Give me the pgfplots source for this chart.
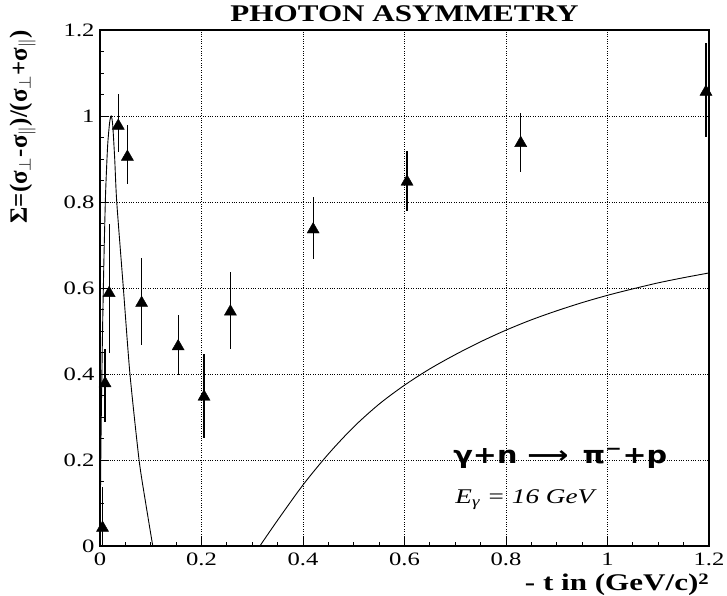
\documentclass[border=0pt]{standalone}
\usepackage{pgfplots}
\pgfplotsset{compat=1.18}
\usepackage{fontspec}
\setmainfont{Liberation Serif}[FakeStretch=1.3]
\newfontfamily\plainserif{Liberation Serif}
\newfontfamily\rxfont{DejaVu Sans}[FakeStretch=1.2]
\begin{document}
\begin{tikzpicture}
\useasboundingbox (-100bp,-50bp) rectangle (627bp,546bp);
\begin{axis}[
  scale only axis, width=609bp, height=516bp,
  xmin=0, xmax=1.2, ymin=0, ymax=1.2,
  xtick={0,0.2,0.4,0.6,0.8,1,1.2},
  ytick={0,0.2,0.4,0.6,0.8,1,1.2},
  minor x tick num=3, minor y tick num=3,
  tick align=inside, xtick pos=bottom, ytick pos=left,
  major tick length=9bp, minor tick length=4bp,
  grid=major, major grid style={black, dotted, line width=0.6pt},
  axis line style={line width=1.1pt},
  tick style={black, line width=0.9pt},
  ticklabel style={font=\fontsize{19}{19}\selectfont},
  xticklabel style={yshift=-3bp},
  yticklabel style={xshift=-2bp},
  /pgf/number format/assume math mode=true,
  clip=false,
]
% curve 1
\addplot[black, line width=0.9pt, smooth, tension=0.4] coordinates {
(0,0) (0.002,0.25) (0.005,0.5) (0.008,0.68) (0.011,0.82) (0.015,0.93)
(0.019,0.985) (0.022,1.0) (0.025,0.98) (0.029,0.9) (0.033,0.8)
(0.046,0.6) (0.059,0.4) (0.077,0.2) (0.090,0.1) (0.104,0)};
% curve 2
\addplot[black, line width=0.9pt, smooth] coordinates {
(0.315,0) (0.35,0.06) (0.4,0.142) (0.45,0.214) (0.5,0.277) (0.55,0.330)
(0.6,0.374) (0.65,0.412) (0.7,0.445) (0.75,0.475) (0.8,0.502) (0.85,0.526)
(0.9,0.547) (0.95,0.566) (1.0,0.583) (1.05,0.598) (1.1,0.612) (1.15,0.624) (1.2,0.635)};
% data
\addplot[black, only marks, mark=triangle*, mark size=7pt,
  error bars/.cd, y dir=both, y explicit, error mark=none,
  error bar style={line width=1.2pt}]
  table[x=x, y=y, y error plus=ep, y error minus=em] {
x y ep em
0.005 0.042 0.095 0.04
0.010 0.378 0.08 0.09
0.018 0.588 0.16 0.14
0.036 0.977 0.074 0.061
0.054 0.905 0.074 0.063
0.082 0.565 0.105 0.098
0.154 0.464 0.073 0.066
0.205 0.347 0.10 0.097
0.257 0.545 0.093 0.088
0.420 0.736 0.076 0.069
0.605 0.847 0.072 0.067
0.829 0.937 0.07 0.067
1.194 1.056 0.114 0.105
};
\node[anchor=base west, inner sep=0pt, font=\rxfont\bfseries\fontsize{24}{24}\selectfont]
  at (axis cs:0.696,0.193) {γ+n ⟶\, π\textsuperscript{−}+p};
\node[anchor=base west, inner sep=0pt, font=\itshape\fontsize{21}{21}\selectfont]
  at (axis cs:0.70,0.10) {E\textsubscript{γ} = 16 GeV};
\node[anchor=base, inner sep=0pt, font=\bfseries\fontsize{24}{24}\selectfont]
  at (rel axis cs:0.5,1.017) {PHOTON ASYMMETRY};
\node[anchor=base east, inner sep=0pt, font=\bfseries\fontsize{24}{24}\selectfont]
  at (rel axis cs:1.0,-0.087) {- t in (GeV/c)\raisebox{6bp}{\fontsize{16}{16}\selectfont 2}};
\node[rotate=90, anchor=base east, inner sep=0pt, font=\plainserif\bfseries\fontsize{25}{25}\selectfont]
  at (rel axis cs:-0.12,1.0) {Σ=(σ$_\perp$-σ$_\parallel$)/(σ$_\perp$+σ$_\parallel$)};
\end{axis}
\end{tikzpicture}
\end{document}
